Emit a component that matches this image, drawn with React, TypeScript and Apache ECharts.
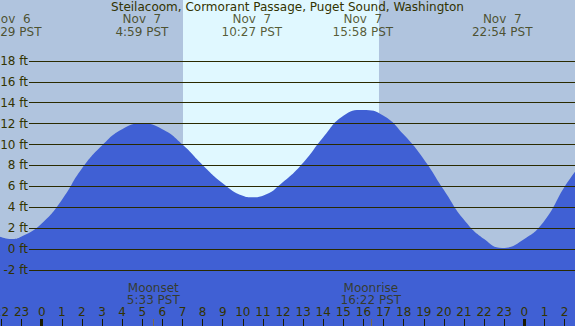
import React, { useEffect, useRef } from "react";
import * as echarts from "echarts";

// Hours since Nov 7 00:00 PST, and tide height in feet
const TIDE_HOURS = [-2.1, -1.52, -1, 0, 1, 2, 3, 4, 4.98, 6, 7, 8, 9, 10, 10.45, 11, 12, 13, 14, 15, 15.97, 17, 18, 19, 20, 21, 22, 22.9, 24, 25, 26, 26.6];
const TIDE_FEET = [1.2, 0.96, 1.2, 2.45, 4.7, 7.7, 9.9, 11.45, 12.0, 11.45, 10.0, 8.05, 6.3, 5.1, 4.95, 5.1, 6.4, 8.25, 10.7, 12.75, 13.3, 12.75, 10.95, 8.6, 5.65, 2.8, 0.95, 0.1, 0.95, 2.7, 5.95, 7.6];

// High/low tide labels
const EXTREME_HOURS = [-1.517, 4.983, 10.45, 15.967, 22.9];
const EXTREME_DAYS = ["Nov  6", "Nov  7", "Nov  7", "Nov  7", "Nov  7"];
const EXTREME_CLOCK = ["22:29 PST", "4:59 PST", "10:27 PST", "15:58 PST", "22:54 PST"];

// Moon events
const MOON_HOURS = [5.55, 16.367];
const MOON_NAMES = ["Moonset", "Moonrise"];
const MOON_CLOCK = ["5:33 PST", "16:22 PST"];

// Daylight
const SUNRISE = 7.026;
const SUNSET = 16.772;

// Axis ticks
const HOUR_TICKS = [-2, -1, 0, 1, 2, 3, 4, 5, 6, 7, 8, 9, 10, 11, 12, 13, 14, 15, 16, 17, 18, 19, 20, 21, 22, 23, 24, 25, 26];
const MIDNIGHTS = [0, 24];
const FEET_TICKS = [-2, 0, 2, 4, 6, 8, 10, 12, 14, 16, 18];

const TITLE = "Steilacoom, Cormorant Passage, Puget Sound, Washington";

const X_MIN = -2.0736;
const X_MAX = 26.519;
const Y_MIN = -7.368;
const Y_MAX = 23.828;
const GRID_X_START = -0.632;
const TEXT = "#333300";
const FONT = "DejaVu Sans";

export default function App() {
  const ref = useRef<HTMLDivElement>(null);
  useEffect(() => {
    if (!ref.current) return;
    const chart = echarts.init(ref.current, null, { renderer: "svg" });
    const tickTop = Y_MIN + 7 / 10.45;
    chart.setOption({
      animation: false,
      backgroundColor: "#b0c4de",
      textStyle: { fontFamily: FONT },
      title: {
        text: TITLE,
        left: "center",
        top: 1,
        padding: 0,
        textStyle: { fontSize: 12, fontWeight: "normal", color: TEXT, fontFamily: FONT },
      },
      grid: { left: 0, right: 0, top: 0, bottom: 0, containLabel: false, outerBoundsMode: "none" },
      xAxis: {
        type: "value",
        min: X_MIN,
        max: X_MAX,
        z: 10,
        axisLine: { show: false, onZero: false },
        splitLine: { show: false },
        axisTick: {
          show: true,
          inside: true,
          length: 7,
          customValues: HOUR_TICKS,
          lineStyle: { color: "#1a1a00", width: 1 },
        },
        axisLabel: {
          inside: true,
          margin: 8,
          customValues: HOUR_TICKS,
          hideOverlap: false,
          color: TEXT,
          fontSize: 12,
          fontFamily: FONT,
          formatter: (v: number) => String(((Math.round(v) % 24) + 24) % 24),
        },
      },
      yAxis: { type: "value", min: Y_MIN, max: Y_MAX, show: false, splitLine: { show: false } },
      series: [
        {
          type: "line",
          z: 1,
          data: [],
          silent: true,
          markArea: {
            silent: true,
            itemStyle: { color: "#e0f8ff" },
            data: [[{ xAxis: SUNRISE }, { xAxis: SUNSET }]],
          },
        },
        {
          type: "line",
          z: 3,
          smooth: true,
          symbol: "none",
          silent: true,
          lineStyle: { width: 0 },
          areaStyle: { color: "#4060d4", opacity: 1, origin: "start" },
          data: TIDE_HOURS.map((h, i) => [h, TIDE_FEET[i]]),
        },
        {
          type: "line",
          z: 5,
          data: [],
          silent: true,
          markLine: {
            silent: true,
            symbol: ["none", "none"],
            animation: false,
            lineStyle: { color: "#2a2a00", width: 1, type: "solid" },
            label: {
              show: true,
              position: "start",
              distance: 1,
              color: TEXT,
              fontSize: 12,
              fontFamily: FONT,
            },
            data: FEET_TICKS.map((v) => [
              { coord: [GRID_X_START, v], label: { formatter: `${v} ft` } },
              { coord: [X_MAX, v] },
            ]),
          },
        },
        {
          type: "line",
          z: 12,
          data: [],
          silent: true,
          markLine: {
            silent: true,
            symbol: ["none", "none"],
            label: { show: false },
            data: [
              ...MIDNIGHTS.map((h) => [
                { coord: [h, Y_MIN], lineStyle: { color: "#1a1a00", width: 3, type: "solid" } },
                { coord: [h, tickTop] },
              ]),
              ...MOON_HOURS.map((h) => [
                { coord: [h, Y_MIN], lineStyle: { color: "#7a6a4a", width: 1, type: "solid" } },
                { coord: [h, tickTop] },
              ]),
            ],
          },
        },
        {
          type: "scatter",
          z: 7,
          symbolSize: 0,
          silent: true,
          label: {
            show: true,
            position: "inside",
            color: TEXT,
            fontSize: 12,
            lineHeight: 13,
            fontFamily: FONT,
            align: "center",
            verticalAlign: "middle",
            formatter: (p: any) => `${EXTREME_DAYS[p.dataIndex]}\n${EXTREME_CLOCK[p.dataIndex]}`,
          },
          data: EXTREME_HOURS.map((h) => [h, 21.4]),
        },
        {
          type: "scatter",
          z: 7,
          symbolSize: 0,
          silent: true,
          label: {
            show: true,
            position: "inside",
            color: TEXT,
            fontSize: 12,
            lineHeight: 12,
            fontFamily: FONT,
            align: "center",
            verticalAlign: "middle",
            formatter: (p: any) => `${MOON_NAMES[p.dataIndex]}\n${MOON_CLOCK[p.dataIndex]}`,
          },
          data: MOON_HOURS.map((h) => [h, -4.35]),
        },
      ],
    });
    return () => chart.dispose();
  }, []);
  return (
    <div
      ref={ref}
      style={{ position: "fixed", left: 0, top: 0, width: 575, height: 326 }}
    />
  );
}
